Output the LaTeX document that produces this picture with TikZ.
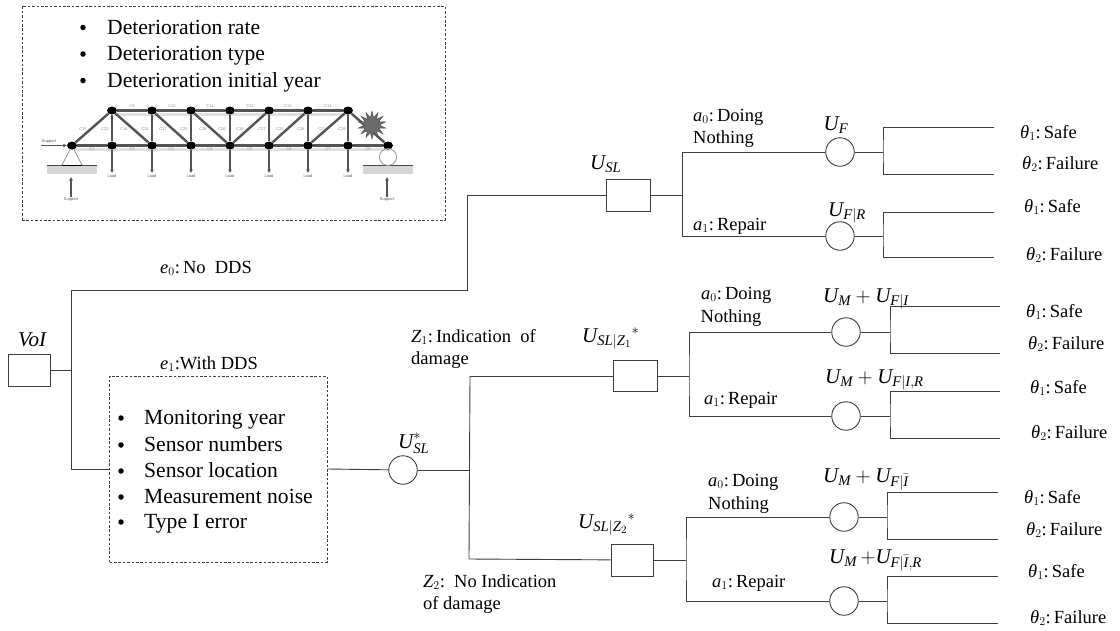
\documentclass[tikz,border=0pt]{standalone}
\usepackage{fontspec}
\usepackage{amsmath}
\setmainfont{Liberation Serif}
\setsansfont{Liberation Sans}
\usetikzlibrary{shapes.geometric,arrows.meta}
\definecolor{wire}{rgb}{0.24,0.24,0.24}
\definecolor{truss}{rgb}{0.33,0.33,0.33}
\newcommand{\mi}[1]{\textit{#1}}
\newcommand{\tht}[1]{$\mi{θ}_{#1}$}
\tikzset{
  wireline/.style={draw=wire,line width=0.9pt},
  dbox/.style={draw=wire,line width=0.9pt,rectangle,inner sep=0pt,minimum width=#1},
  cnode/.style={draw=wire,line width=0.9pt,circle,inner sep=0pt,minimum size=28.5pt,fill=white},
  dashbox/.style={draw=black!75,line width=0.8pt,dash pattern=on 2.6pt off 1.8pt},
  lab/.style={anchor=base west,inner sep=0pt,font=\fontsize{18.5}{22}\selectfont},
  mlab/.style={anchor=base west,inner sep=0pt,font=\fontsize{21}{24}\selectfont},
  bullettext/.style={anchor=base west,inner sep=0pt,font=\fontsize{21.6}{24}\selectfont},
  bulletdot/.style={circle,fill=black,inner sep=0pt,minimum size=5.5pt},
  member/.style={draw=truss,line width=2.4pt},
  tnode/.style={ellipse,fill=black,inner sep=0pt,minimum width=10pt,minimum height=8pt},
  tinylab/.style={inner sep=0pt,text=black!45,font=\sffamily\fontsize{4}{4}\selectfont},
  tinydark/.style={inner sep=0pt,text=black!65,font=\sffamily\fontsize{4}{4}\selectfont},
  loadarrow/.style={draw=truss,line width=1.4pt,-{Latex[length=3.5pt,width=4pt]}},
}
% id, circle x,y, junction x, top y, bottom y, end x
\newcommand{\chancefork}[7]{%
  \node[cnode] (#1) at (#2,#3) {};
  \coordinate (#1j) at (#4,#3);
  \coordinate (#1t) at (#7,#5);
  \coordinate (#1b) at (#7,#6);
  \draw[wireline] (#1) -- (#1j);
  \draw[wireline] (#1t) -| (#1j) |- (#1b);
}
\begin{document}
\begin{tikzpicture}[x=1pt,y=-1pt]
\useasboundingbox (0,0) rectangle (1120,630);
\fill[white] (0,0) rectangle (1120,630);

% ---------- top dashed box
\node[dashbox,rectangle,minimum width=423pt,minimum height=214pt,inner sep=0pt] (detbox) at (233.5,113) {};
\node[bulletdot] (d1) at (83,27.5) {};
\node[bulletdot] (d2) at (83,54) {};
\node[bulletdot] (d3) at (83,80.5) {};
\node[bullettext] (dt1) at (107,34) {Deterioration rate};
\node[bullettext] (dt2) at (107,60.5) {Deterioration type};
\node[bullettext] (dt3) at (107,87) {Deterioration initial year};

% ---------- truss
\coordinate (sa) at (74,149); \coordinate (sb) at (390,149);
\coordinate (sc) at (114,114); \coordinate (sd) at (350,114);
\draw[draw=black!12,line width=3pt] (sa) -- (sb);
\draw[draw=black!12,line width=3pt] (sc) -- (sd);
\foreach \i/\x in {1/72,2/112,3/152,4/191,5/230,6/269,7/308,8/348,9/388}
  \node[tnode] (b\i) at (\x,145.5) {};
\foreach \i/\x in {2/112,3/152,4/191,5/230,6/269,7/308,8/348}
  \node[tnode] (t\i) at (\x,110.5) {};
\draw[member] (b1) -- (b2) -- (b3) -- (b4) -- (b5) -- (b6) -- (b7) -- (b8) -- (b9);
\draw[member] (t2) -- (t3) -- (t4) -- (t5) -- (t6) -- (t7) -- (t8);
\foreach \i in {2,...,8} \draw[member] (t\i) -- (b\i);
\draw[member] (b1) -- (t2);
\draw[member] (t2) -- (b3);
\draw[member] (t3) -- (b4);
\draw[member] (t4) -- (b5);
\draw[member] (b5) -- (t6);
\draw[member] (b6) -- (t7);
\draw[member] (b7) -- (t8);
\draw[member] (t8) -- (b9);
\foreach \i in {2,...,8} {
  \coordinate (l\i) at ([yshift=-27.5pt]b\i.center);
  \draw[loadarrow] (b\i) -- (l\i);
  \node[tinydark] (lt\i) at ([yshift=-31pt]b\i.center) {Load};
}
\foreach \n/\x in {C9/132,C10/172,C11/210,C12/250,C13/288,C14/328}
  \node[tinylab] (lab\n) at (\x,106.5) {\n};
\foreach \n/\x in {C1/92,C2/132,C3/171,C4/210,C5/250,C6/289,C7/328,C8/368}
  \node[tinylab] (lab\n) at (\x,149.5) {\n};
\foreach \n/\x in {C15/83,C23/105,C16/124,C24/145,C17/163,C25/184,C18/203,C26/222,C19/240,C27/262,C20/280,C28/301,C21/322,C29/342}
  \node[tinylab] (lab\n) at (\x,129) {\n};
\node[star,star points=14,star point ratio=1.9,fill=black!58,draw=black!70,line width=0.4pt,inner sep=0pt,minimum size=28pt] (burst) at (372,125) {};
% supports
\coordinate (pl1a) at (47,165); \coordinate (pl1b) at (97,174);
\coordinate (pl2a) at (363,165); \coordinate (pl2b) at (413,174);
\fill[black!16] (pl1a) rectangle (pl1b);
\fill[black!16] (pl2a) rectangle (pl2b);
\draw[line width=0.9pt,black!70] (pl1a) -- (pl1a -| pl1b);
\draw[line width=0.9pt,black!70] (pl2a) -- (pl2a -| pl2b);
\coordinate (tl) at (62,165); \coordinate (tr) at (82,165);
\draw[black!45,line width=0.7pt] (tl) -- (b1) -- (tr);
\draw[black,line width=1pt] (tl) -- (tr);
\node[circle,draw=black!45,line width=0.7pt,inner sep=0pt,minimum size=17pt] (roller) at (388,157) {};
\coordinate (su1) at (71,197); \coordinate (su1e) at (71,177);
\coordinate (su2) at (387,197); \coordinate (su2e) at (387,177);
\draw[loadarrow] (su1) -- (su1e);
\draw[loadarrow] (su2) -- (su2e);
\node[tinydark] (sl1t) at (71,200) {Support};
\node[tinydark] (sl2t) at (387,200) {Support};
\coordinate (su3) at (41,145.5);
\draw[loadarrow,line width=1pt] (su3) -- (b1);
\node[tinydark] (sl3t) at (49,141.5) {Support};

% ---------- root
\node[dbox=42pt,minimum height=32pt] (voi) at (29.5,370) {};
\node[mlab] (voit) at (18,346) {$\mi{VoI}$};
\coordinate (jv) at (71.5,370);
\coordinate (jtop) at (467.7,290);
\node[dbox=44pt,minimum height=32pt] (usl) at (628.5,195) {};
\node[dashbox,rectangle,minimum width=217.5pt,minimum height=186pt,inner sep=0pt] (ddsbox) at (218.3,469) {};
\draw[wireline] (voi) -- (jv);
\draw[wireline] (jv) |- (jtop) |- (usl.west);
\draw[wireline] (jv) |- (ddsbox.west);
\node[lab] (e0) at (160,273) {$\mi{e}_0$:\,No\enspace DDS};
\node[lab] (e1) at (160,369) {$\mi{e}_1$:With DDS};

\foreach \n/\y in {1/418,2/445,3/471,4/497,5/522}
  \node[bulletdot] (dd\n) at (121,\y) {};
\node[bullettext] (mt1) at (144,424) {Monitoring year};
\node[bullettext] (mt2) at (144,451) {Sensor numbers};
\node[bullettext] (mt3) at (144,477) {Sensor location};
\node[bullettext] (mt4) at (144,503) {Measurement noise};
\node[bullettext] (mt5) at (144,528) {Type I error};

% ---------- no-DDS subtree
\coordinate (ja) at (682.5,195);
\draw[wireline] (usl.east) -- (ja);
\chancefork{uf}{840}{152}{883}{127}{174.5}{994}
\chancefork{ufr}{840}{236}{883}{212}{257}{994}
\draw[wireline] (uf) -| (ja) |- (ufr);
\node[mlab] (ult) at (590,169) {$\mi{U}_{\mi{SL}}$};
\node[lab] (a0a) at (693,121) {$\mi{a}_0$:\,Doing};
\node[lab] (a0b) at (693,143) {Nothing};
\node[lab] (a1a) at (693,230) {$\mi{a}_1$:\,Repair};
\node[mlab] (uft) at (823.5,130) {$\mi{U}_{\mi{F}}$};
\node[mlab] (ufrt) at (828,216) {$\mi{U}_{\mi{F}|\mi{R}}$};
\node[lab] (s1) at (1020,138) {\tht{1}:\,Safe};
\node[lab] (f1) at (1022,169) {\tht{2}:\,Failure};
\node[lab] (s2) at (1024,212) {\tht{1}:\,Safe};
\node[lab] (f2) at (1026,260) {\tht{2}:\,Failure};

% ---------- DDS subtree
\node[cnode] (ustar) at (403,470) {};
\draw[wireline] (ddsbox.east) -- (ustar);
\coordinate (jz) at (469.5,470);
\draw[wireline] (ustar) -- (jz);
\node[dbox=44pt,minimum height=31pt] (uz1) at (635,376) {};
\node[dbox=42pt,minimum height=32pt] (uz2) at (632,560) {};
\coordinate (jz1) at (470,376);
\coordinate (jz2) at (469,559);
\draw[wireline] (jz1) -- (jz2);
\draw[wireline] (jz1) -- (uz1);
\draw[wireline] (jz2) -- (uz2);
\node[mlab] (ust) at (398,448) {$\mi{U}_{\mi{SL}}^{*}$};
\node[lab] (z1a) at (411,342) {$\mi{Z}_1$:\,Indication\enspace of};
\node[lab] (z1b) at (411,364) {damage};
\node[lab] (z2a) at (423,587) {$\mi{Z}_2$:\enspace No Indication};
\node[lab] (z2b) at (423,609) {of damage};
\node[mlab] (uz1t) at (582,342) {$\mi{U}_{\mi{SL}|\mi{Z}_1}{}^{*}$};
\node[mlab] (uz2t) at (578,528) {$\mi{U}_{\mi{SL}|\mi{Z}_2}{}^{*}$};

% branch Z1
\coordinate (ka) at (689,376);
\draw[wireline] (uz1.east) -- (ka);
\chancefork{m1}{846}{332}{890}{306.5}{353.5}{1000}
\chancefork{m2}{846}{416}{890}{391}{438}{1000}
\draw[wireline] (m1) -| (ka) |- (m2);
\node[lab] (b0a) at (701,299) {$\mi{a}_0$:\,Doing};
\node[lab] (b0b) at (700.5,322) {Nothing};
\node[lab] (b1a) at (704,404) {$\mi{a}_1$:\,Repair};
\node[mlab] (m1t) at (823,302) {$\mi{U}_{\mi{M}}+\mi{U}_{\mi{F}|\mi{I}}$};
\node[mlab] (m2t) at (825,383) {$\mi{U}_{\mi{M}}+\mi{U}_{\mi{F}|\mi{I},\mi{R}}$};
\node[lab] (s3) at (1026,317) {\tht{1}:\,Safe};
\node[lab] (f3) at (1028,349) {\tht{2}:\,Failure};
\node[lab] (s4) at (1030,393) {\tht{1}:\,Safe};
\node[lab] (f4) at (1031,438) {\tht{2}:\,Failure};

% branch Z2
\coordinate (kb) at (686,560);
\draw[wireline] (uz2.east) -- (kb);
\chancefork{m3}{844}{517}{887}{492}{539}{998}
\chancefork{m4}{844}{601}{887}{576}{623}{998}
\draw[wireline] (m3) -| (kb) |- (m4);
\node[lab] (c0a) at (708,486) {$\mi{a}_0$:\,Doing};
\node[lab] (c0b) at (708,509) {Nothing};
\node[lab] (c1a) at (712,587) {$\mi{a}_1$:\,Repair};
\node[mlab] (m3t) at (823,482) {$\mi{U}_{\mi{M}}+\mi{U}_{\mi{F}|\bar{\mi{I}}}$};
\node[mlab] (m4t) at (829,563) {$\mi{U}_{\mi{M}}\,{+}\mi{U}_{\mi{F}|\bar{\mi{I}},\mi{R}}$};
\node[lab] (s5) at (1024,503) {\tht{1}:\,Safe};
\node[lab] (f5) at (1026,535) {\tht{2}:\,Failure};
\node[lab] (s6) at (1028,577) {\tht{1}:\,Safe};
\node[lab] (f6) at (1030,623) {\tht{2}:\,Failure};
\end{tikzpicture}
\end{document}
